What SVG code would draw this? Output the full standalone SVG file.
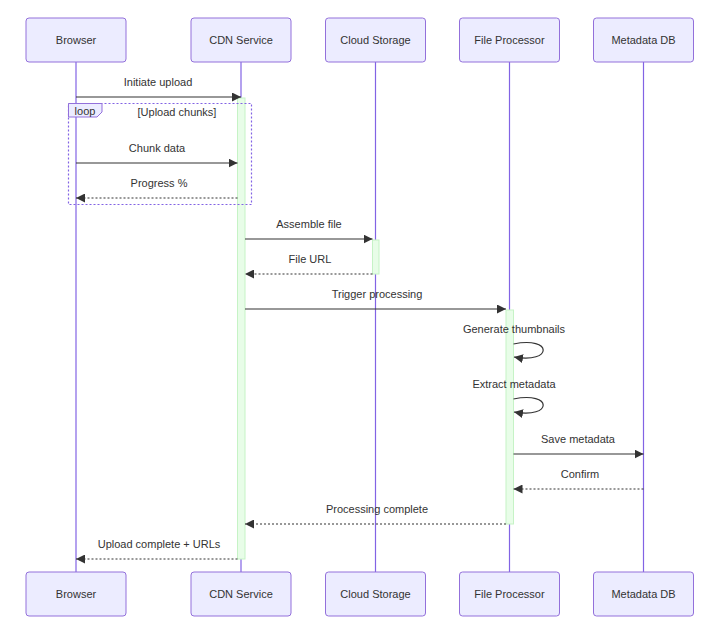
<svg xmlns="http://www.w3.org/2000/svg" width="722" height="629" viewBox="0 0 722 629">
<style>
.actor rect{fill:#ECECFF;stroke:#9370DB;stroke-width:1}
.actor text{font-family:"Liberation Sans",Arial,sans-serif;font-size:11px;fill:#333;text-anchor:middle}
.life{stroke:#8263e4;stroke-width:1.2}
.act{fill:#e8fde8;stroke:#c6f3c6;stroke-width:1}
.msg{font-family:"Liberation Sans",Arial,sans-serif;font-size:11px;fill:#333;text-anchor:middle}
.solid{stroke:#333;stroke-width:1.2;fill:none}
.dash{stroke:#333;stroke-width:1.2;fill:none;stroke-dasharray:2,2}
</style>
<defs>
<marker id="ah" viewBox="0 0 10 10" refX="10" refY="5" markerWidth="9" markerHeight="9" markerUnits="userSpaceOnUse" orient="auto">
<path d="M0,0 L10,5 L0,10 z" fill="#333"/>
</marker>
</defs>
<rect width="722" height="629" fill="#fff"/>
<g id="lifelines">
<line class="life" x1="76" y1="62" x2="76" y2="572"/>
<line class="life" x1="241" y1="62" x2="241" y2="572"/>
<line class="life" x1="375.5" y1="62" x2="375.5" y2="572"/>
<line class="life" x1="509.5" y1="62" x2="509.5" y2="572"/>
<line class="life" x1="643.5" y1="62" x2="643.5" y2="572"/>
</g>
<g id="actor-browser" class="actor"><rect x="26" y="18" width="100" height="44" rx="3"/><text x="76" y="44">Browser</text></g>
<g id="actor-cdn" class="actor"><rect x="191" y="18" width="100" height="44" rx="3"/><text x="241" y="44">CDN Service</text></g>
<g id="actor-storage" class="actor"><rect x="325.5" y="18" width="100" height="44" rx="3"/><text x="375.5" y="44">Cloud Storage</text></g>
<g id="actor-processor" class="actor"><rect x="459.5" y="18" width="100" height="44" rx="3"/><text x="509.5" y="44">File Processor</text></g>
<g id="actor-db" class="actor"><rect x="593.5" y="18" width="100" height="44" rx="3"/><text x="643.5" y="44">Metadata DB</text></g>
<g id="actor-browser-bottom" class="actor"><rect x="26" y="572" width="100" height="44" rx="3"/><text x="76" y="598">Browser</text></g>
<g id="actor-cdn-bottom" class="actor"><rect x="191" y="572" width="100" height="44" rx="3"/><text x="241" y="598">CDN Service</text></g>
<g id="actor-storage-bottom" class="actor"><rect x="325.5" y="572" width="100" height="44" rx="3"/><text x="375.5" y="598">Cloud Storage</text></g>
<g id="actor-processor-bottom" class="actor"><rect x="459.5" y="572" width="100" height="44" rx="3"/><text x="509.5" y="598">File Processor</text></g>
<g id="actor-db-bottom" class="actor"><rect x="593.5" y="572" width="100" height="44" rx="3"/><text x="643.5" y="598">Metadata DB</text></g>
<g id="activations">
<rect class="act" x="237.5" y="98" width="7.5" height="461"/>
<rect class="act" x="372.5" y="240" width="6.5" height="34"/>
<rect class="act" x="506" y="310" width="7.5" height="214"/>
</g>
<g id="loop">
<rect x="68.5" y="103.5" width="183" height="101" fill="none" stroke="#8263e4" stroke-width="1.2" stroke-dasharray="2,2"/>
<polygon points="68.5,103.5 102,103.5 102,112 97,117 68.5,117" fill="#ECECFF" stroke="#9370DB" stroke-width="1"/>
<text class="msg" x="85" y="114.5">loop</text>
<text class="msg" x="177" y="116">[Upload chunks]</text>
</g>
<g id="connectors">
<text class="msg" x="158" y="86">Initiate upload</text>
<line class="solid" x1="76" y1="97" x2="241" y2="97" marker-end="url(#ah)"/>
<text class="msg" x="157" y="152">Chunk data</text>
<line class="solid" x1="76" y1="163" x2="237.5" y2="163" marker-end="url(#ah)"/>
<text class="msg" x="159" y="187">Progress %</text>
<line class="dash" x1="237.5" y1="198" x2="76" y2="198" marker-end="url(#ah)"/>
<text class="msg" x="309" y="228">Assemble file</text>
<line class="solid" x1="245" y1="239" x2="372.5" y2="239" marker-end="url(#ah)"/>
<text class="msg" x="310" y="263">File URL</text>
<line class="dash" x1="372.5" y1="274" x2="245" y2="274" marker-end="url(#ah)"/>
<text class="msg" x="377" y="298">Trigger processing</text>
<line class="solid" x1="245" y1="309" x2="506" y2="309" marker-end="url(#ah)"/>
<text class="msg" x="514" y="333">Generate thumbnails</text>
<path class="solid" d="M513.5,344 C553,336 553,364 514,357" marker-end="url(#ah)"/>
<text class="msg" x="514" y="388">Extract metadata</text>
<path class="solid" d="M513.5,399 C553,391 553,419 514,412" marker-end="url(#ah)"/>
<text class="msg" x="578" y="443">Save metadata</text>
<line class="solid" x1="513.5" y1="454" x2="643.5" y2="454" marker-end="url(#ah)"/>
<text class="msg" x="580" y="478">Confirm</text>
<line class="dash" x1="643.5" y1="489" x2="513.5" y2="489" marker-end="url(#ah)"/>
<text class="msg" x="377" y="513">Processing complete</text>
<line class="dash" x1="506" y1="524" x2="245" y2="524" marker-end="url(#ah)"/>
<text class="msg" x="159" y="548">Upload complete + URLs</text>
<line class="dash" x1="237.5" y1="559" x2="76" y2="559" marker-end="url(#ah)"/>
</g>
</svg>
